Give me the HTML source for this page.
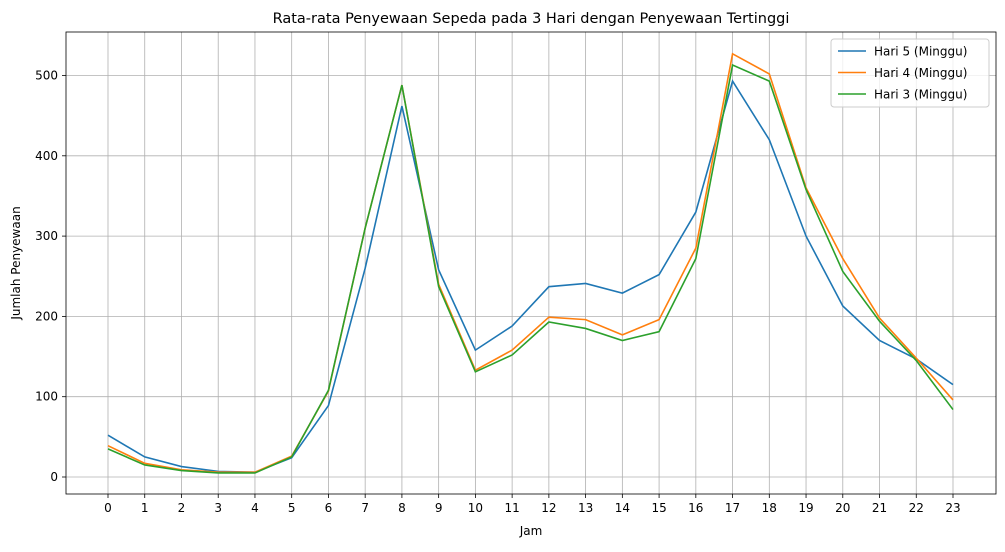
<!DOCTYPE html>
<html><head><meta charset="utf-8">
<style>
body{margin:0;background:#fff;font-family:"Liberation Sans","DejaVu Sans",sans-serif;}
svg text{font-family:"DejaVu Sans","Liberation Sans",sans-serif;}
</style></head>
<body>
<svg id="chart" width="1005" height="547" xmlns="http://www.w3.org/2000/svg"></svg>
<script>
const hours = [0,1,2,3,4,5,6,7,8,9,10,11,12,13,14,15,16,17,18,19,20,21,22,23];
const yTicks = [0,100,200,300,400,500];
const seriesNames = ["Hari 5 (Minggu)","Hari 4 (Minggu)","Hari 3 (Minggu)"];
const hari5 = [52,25,13,7,6,24,89,260,462,258,158,188,237,241,229,252,330,493,420,300,213,170,147,115];
const hari4 = [39,17,9,6,6,26,107,310,488,240,133,158,199,196,177,196,285,527,502,360,272,198,148,96];
const hari3 = [35,15,8,5,5,25,108,310,488,237,131,152,193,185,170,181,272,513,493,358,256,194,145,84];
const colors = ["#1f77b4","#ff7f0e","#2ca02c"];

const svg = document.getElementById('chart');
const NS = "http://www.w3.org/2000/svg";
const L=66,R=996,T=32,B=494;
const xs = h => 108 + h*(953-108)/23;
const ys = v => 477 - v*(477-75.5)/500;
function mk(tag, attrs, parent){const e=document.createElementNS(NS,tag);for(const k in attrs)e.setAttribute(k,attrs[k]);(parent||svg).appendChild(e);return e;}

// grid
hours.forEach(h=>{
  const g=mk('line',{x1:xs(h),x2:xs(h),y1:T,y2:B,stroke:'#b0b0b0','stroke-width':0.8});
  
  
  const t=mk('line',{x1:xs(h),x2:xs(h),y1:B,y2:B+4,stroke:'#000','stroke-width':0.8});
  
  
  const lb=mk('text',{x:xs(h),y:B+18,'text-anchor':'middle','font-size':12,fill:'#000'});
  lb.textContent=h;
  
  
});
yTicks.forEach(v=>{
  const g=mk('line',{x1:L,x2:R,y1:ys(v),y2:ys(v),stroke:'#b0b0b0','stroke-width':0.8});
  
  
  const t=mk('line',{x1:L-4,x2:L,y1:ys(v),y2:ys(v),stroke:'#000','stroke-width':0.8});
  
  
  const lb=mk('text',{x:L-8,y:ys(v)+4,'text-anchor':'end','font-size':12,fill:'#000'});
  lb.textContent=v;
  
  
});

// series
[hari5,hari4,hari3].forEach((d,i)=>{
  const p=mk('polyline',{points:d.map((v,j)=>xs(hours[j])+','+ys(v)).join(' '),fill:'none',stroke:colors[i],'stroke-width':1.6});
  
  
});

// frame
const fr=mk('rect',{x:L,y:T,width:R-L,height:B-T,fill:'none',stroke:'#000','stroke-width':0.8});



// titles
const tt=mk('text',{x:(L+R)/2,y:23,'text-anchor':'middle','font-size':14.5,fill:'#000'});
tt.textContent='Rata-rata Penyewaan Sepeda pada 3 Hari dengan Penyewaan Tertinggi';


const xt=mk('text',{x:(L+R)/2,y:535,'text-anchor':'middle','font-size':12,fill:'#000'});
xt.textContent='Jam';


const yt=mk('text',{x:0,y:0,'text-anchor':'middle','font-size':12,fill:'#000',transform:'translate(20,263) rotate(-90)'});
yt.textContent='Jumlah Penyewaan';



// legend
const lg=mk('g',{});


mk('rect',{x:831,y:39,width:158,height:68,rx:3,fill:'#fff','fill-opacity':0.8,stroke:'#ccc'},lg);
seriesNames.forEach((n,i)=>{
  const y=51+i*21.5;
  const e=mk('g',{},lg);
  
  
  mk('line',{x1:838,x2:866,y1:y,y2:y,stroke:colors[i],'stroke-width':1.6},e);
  const t=mk('text',{x:874,y:y+4.5,'font-size':12,fill:'#000'},e);
  t.textContent=n;
});
</script>
</body></html>
